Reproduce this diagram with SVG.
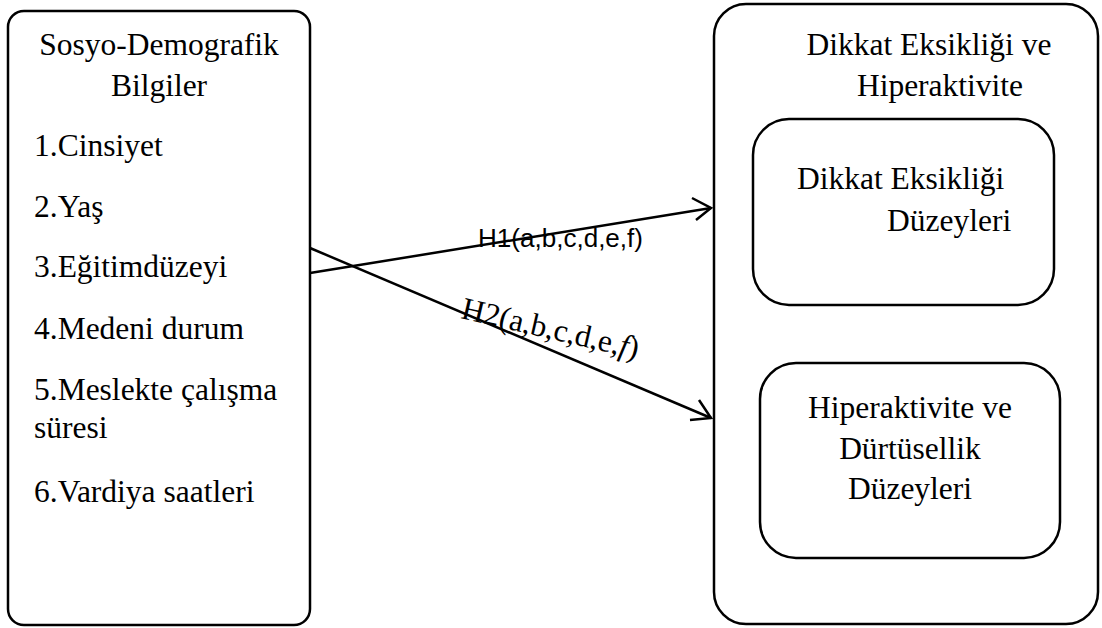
<svg xmlns="http://www.w3.org/2000/svg" width="1102" height="628" viewBox="0 0 1102 628">
<style>
.box{fill:#fff;stroke:#000;stroke-width:2.5}
.t{font-family:"Liberation Serif","Times New Roman",serif;font-size:31.5px;fill:#000}
.c{text-anchor:middle}
.ln{fill:none;stroke:#000;stroke-width:2.5}
.s{font-family:"Liberation Sans",Arial,sans-serif;font-size:25px;fill:#000}
</style>
<rect width="1102" height="628" fill="#fff"/>
<g id="socio">
<rect class="box" x="8" y="11" width="302" height="614" rx="16"/>
<text class="t c" x="159" y="55">Sosyo-Demografik</text>
<text class="t c" x="159" y="96">Bilgiler</text>
<text class="t" x="34" y="156">1.Cinsiyet</text>
<text class="t" x="34" y="217">2.Yaş</text>
<text class="t" x="34" y="277">3.Eğitimdüzeyi</text>
<text class="t" x="34" y="339">4.Medeni durum</text>
<text class="t" x="34" y="400">5.Meslekte çalışma</text>
<text class="t" x="34" y="438">süresi</text>
<text class="t" x="34" y="502">6.Vardiya saatleri</text>
</g>
<g id="adhd">
<rect class="box" x="714" y="4" width="384" height="620" rx="32"/>
<text class="t c" x="929" y="55">Dikkat Eksikliği ve</text>
<text class="t c" x="940" y="96">Hiperaktivite</text>
</g>
<g id="attention">
<rect class="box" x="753" y="119" width="301" height="186" rx="36"/>
<text class="t" x="797" y="189">Dikkat Eksikliği</text>
<text class="t" x="887" y="231">Düzeyleri</text>
</g>
<g id="hyper">
<rect class="box" x="760" y="363" width="300" height="195" rx="36"/>
<text class="t c" x="910" y="418">Hiperaktivite ve</text>
<text class="t c" x="910" y="459">Dürtüsellik</text>
<text class="t c" x="910" y="499">Düzeyleri</text>
</g>
<g id="connectors">
<line class="ln" x1="310" y1="273" x2="711" y2="208"/>
<polyline class="ln" points="692,198 711,208 696,220"/>
<line class="ln" x1="310" y1="248" x2="711" y2="418"/>
<polyline class="ln" points="699,400 711,418 690,420"/>
<text class="s" x="478" y="247" textLength="165" lengthAdjust="spacingAndGlyphs">H1(a,b,c,d,e,f)</text>
<text class="t" x="0" y="0" transform="translate(460,318) rotate(13)">H2(a,b,c,d,e,<tspan font-style="italic">f</tspan>)</text>
</g>
</svg>
